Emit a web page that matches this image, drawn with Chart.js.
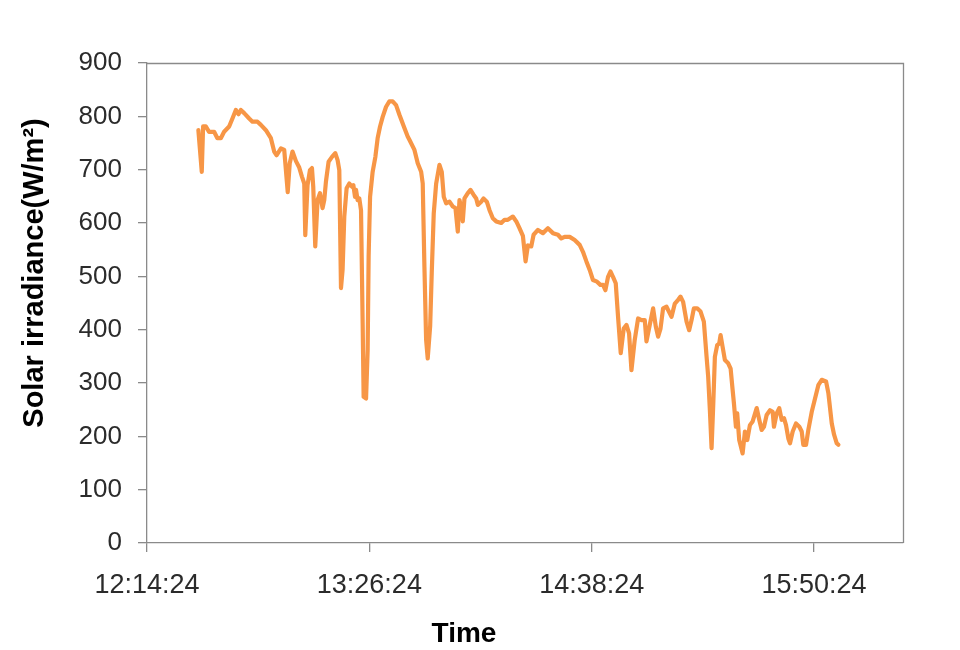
<!DOCTYPE html>
<html>
<head>
<meta charset="utf-8">
<script src="https://cdn.jsdelivr.net/npm/chart.js@4.4.1/dist/chart.umd.min.js"></script>
<style>
  html, body { margin: 0; padding: 0; background: #ffffff; }
  #wrap { width: 960px; height: 650px; position: relative; }
</style>
</head>
<body>
<div id="wrap"><canvas id="chart" width="960" height="650"></canvas></div>
<script>
// Logged samples: clock time and solar irradiance (W/m²)
const times = [
  '12:31:02','12:32:08','12:32:34','12:33:26','12:34:30','12:36:08','12:37:12','12:38:18','12:39:22','12:41:00',
  '12:42:04','12:43:10','12:44:01','12:44:47','12:45:52','12:47:29','12:48:33','12:50:10','12:51:16','12:52:54',
  '12:54:31','12:55:35','12:56:20','12:57:46','12:58:50','12:59:58','13:00:37','13:01:31','13:02:38','13:03:42',
  '13:04:34','13:05:19','13:05:39','13:06:23','13:07:10','13:07:49','13:08:14','13:08:53','13:09:38','13:10:25',
  '13:11:15','13:11:48','13:12:21','13:13:12','13:14:18','13:15:22','13:16:07','13:16:40','13:17:13','13:17:44',
  '13:18:17','13:19:02','13:19:55','13:20:47','13:21:13','13:21:46','13:22:05','13:22:36','13:23:09','13:23:42',
  '13:24:14','13:24:33','13:25:20','13:25:51','13:26:10','13:26:38','13:27:28','13:28:21','13:29:05','13:29:52',
  '13:30:43','13:31:49','13:32:53','13:33:57','13:35:03','13:36:08','13:37:45','13:38:49','13:39:22','13:41:00',
  '13:42:04','13:43:10','13:43:41','13:44:14','13:44:47','13:45:18','13:46:05','13:46:36','13:47:15','13:48:02',
  '13:49:06','13:49:51','13:50:30','13:51:16','13:52:21','13:53:25','13:54:17','13:55:02','13:55:35','13:56:20',
  '13:56:39','13:57:12','13:58:17','13:59:09','14:00:08','14:01:00','14:01:31','14:02:37','14:03:22','14:04:26',
  '14:05:19','14:06:23','14:07:29','14:09:07','14:10:11','14:11:15','14:12:52','14:13:59','14:15:03','14:16:07',
  '14:16:59','14:17:44','14:18:50','14:19:35','14:20:59','14:22:36','14:24:13','14:25:51','14:27:28','14:28:34',
  '14:29:38','14:31:16','14:32:53','14:34:30','14:35:34','14:36:41','14:37:45','14:38:49','14:40:07','14:41:13',
  '14:42:04','14:42:50','14:43:41','14:44:28','14:45:18','14:46:11','14:46:56','14:47:48','14:48:46','14:49:39',
  '14:50:30','14:51:16','14:52:20','14:53:25','14:54:31','14:55:35','14:56:08','14:57:12','14:58:17','14:59:09',
  '14:59:54','15:00:41','15:01:31','15:02:37','15:04:15','15:05:19','15:06:23','15:07:10','15:08:00','15:09:07',
  '15:09:57','15:10:44','15:11:29','15:12:33','15:13:39','15:14:43','15:15:36','15:16:07','15:16:40','15:17:13',
  '15:17:44','15:18:17','15:19:02','15:19:41','15:20:08','15:20:47','15:21:32','15:22:36','15:23:23','15:24:02',
  '15:24:27','15:25:06','15:25:31','15:26:10','15:27:16','15:28:01','15:28:46','15:29:38','15:30:31','15:31:49',
  '15:32:39','15:33:26','15:34:11','15:35:03','15:36:08','15:37:00','15:37:25','15:38:18','15:39:08','15:39:55',
  '15:40:40','15:41:19','15:42:04','15:42:37','15:43:29','15:44:33','15:45:38','15:46:24','15:46:55','15:47:48',
  '15:48:33','15:49:39','15:50:43','15:51:47','15:52:53','15:54:17','15:55:02','15:56:08','15:56:53','15:57:45',
  '15:58:17'
];

const irradiance = [
  774, 696, 781, 781, 771, 771, 759, 759, 771, 781,
  796, 812, 804, 812, 806, 796, 790, 790, 784, 774,
  759, 734, 727, 740, 737, 658, 712, 734, 716, 704,
  687, 674, 577, 671, 699, 703, 668, 556, 643, 656,
  628, 643, 678, 715, 724, 731, 718, 699, 478, 512,
  612, 665, 674, 668, 671, 649, 662, 643, 646, 624,
  412, 274, 271, 362, 537, 649, 696, 724, 759, 781,
  799, 818, 828, 828, 821, 803, 778, 762, 756, 737,
  712, 696, 674, 518, 381, 346, 406, 506, 618, 674,
  709, 696, 649, 637, 640, 631, 628, 584, 643, 624,
  603, 646, 656, 662, 653, 646, 634, 640, 646, 640,
  624, 609, 603, 600, 606, 606, 612, 603, 590, 576,
  528, 558, 556, 578, 587, 581, 590, 581, 578, 571,
  574, 574, 568, 559, 546, 528, 512, 493, 490, 484,
  484, 474, 499, 509, 499, 487, 424, 356, 402, 409,
  393, 324, 381, 421, 418, 418, 378, 409, 440, 406,
  387, 402, 440, 443, 424, 449, 456, 462, 452, 415,
  399, 418, 440, 440, 434, 415, 349, 312, 249, 178,
  256, 349, 371, 374, 390, 368, 343, 337, 327, 287,
  262, 218, 243, 193, 168, 209, 193, 221, 228, 253,
  231, 212, 218, 240, 249, 246, 218, 243, 253, 231,
  234, 221, 196, 187, 209, 224, 218, 209, 184, 184,
  212, 246, 271, 296, 306, 303, 281, 224, 203, 187,
  184
];

// Time axis: labelled ticks and the axis end
const xTickLabels = ['12:14:24', '13:26:24', '14:38:24', '15:50:24'];
const xAxisStart = '12:14:24';
const xAxisEnd = '16:19:12';

// Irradiance axis
const yMin = 0;
const yMax = 900;
const yStep = 100;

const xTitle = 'Time';
const yTitle = 'Solar irradiance(W/m\u00B2)';

function toSec(t) {
  const p = t.split(':').map(Number);
  return p[0] * 3600 + p[1] * 60 + p[2];
}

const FONT = '"Liberation Sans", Arial, Helvetica, sans-serif';
const AXIS_GREY = '#8a8a8a';

// Frame around the plot area and the two axis titles
const framePlugin = {
  id: 'frameAndTitles',
  beforeDatasetsDraw(chart) {
    const { ctx, chartArea: a } = chart;
    ctx.save();
    ctx.strokeStyle = AXIS_GREY;
    ctx.lineWidth = 1.3;
    ctx.beginPath();
    ctx.moveTo(a.left, a.top + 0.5);
    ctx.lineTo(a.right + 0.5, a.top + 0.5);
    ctx.lineTo(a.right + 0.5, a.bottom);
    ctx.stroke();
    ctx.restore();
  },
  afterDraw(chart) {
    const ctx = chart.ctx;
    ctx.save();
    ctx.fillStyle = '#000000';
    ctx.textAlign = 'center';
    ctx.textBaseline = 'middle';
    ctx.font = 'bold 28px ' + FONT;
    ctx.fillText(xTitle, 464, 634);
    ctx.translate(35, 273);
    ctx.rotate(-Math.PI / 2);
    ctx.font = 'bold 29px ' + FONT;
    ctx.fillText(yTitle, 0, 0);
    ctx.restore();
  }
};

new Chart(document.getElementById('chart'), {
  type: 'line',
  data: {
    datasets: [{
      data: times.map((t, i) => ({ x: toSec(t), y: irradiance[i] })),
      borderColor: '#F79646',
      borderWidth: 4.2,
      borderJoinStyle: 'round',
      borderCapStyle: 'round',
      pointRadius: 0,
      tension: 0,
      fill: false
    }]
  },
  options: {
    responsive: false,
    animation: false,
    devicePixelRatio: 1,
    layout: { padding: { left: 0, right: 57, top: 63, bottom: 0 } },
    plugins: {
      legend: { display: false },
      tooltip: { enabled: false },
      title: { display: false }
    },
    scales: {
      x: {
        type: 'linear',
        min: toSec(xAxisStart),
        max: toSec(xAxisEnd),
        afterBuildTicks(scale) {
          scale.ticks = xTickLabels.map(t => ({ value: toSec(t) }));
        },
        afterFit(scale) { scale.height = 107; },
        ticks: {
          autoSkip: false,
          maxRotation: 0,
          padding: 17,
          color: '#2b2b2b',
          font: { family: FONT, size: 27 },
          callback: (value, index) => xTickLabels[index]
        },
        grid: {
          drawOnChartArea: false,
          drawTicks: true,
          tickLength: 9,
          color: AXIS_GREY,
          lineWidth: 1.3
        },
        border: { display: true, color: AXIS_GREY, width: 1.3 }
      },
      y: {
        min: yMin,
        max: yMax,
        afterFit(scale) { scale.width = 147; },
        ticks: {
          stepSize: yStep,
          padding: 16,
          color: '#2b2b2b',
          font: { family: FONT, size: 26 }
        },
        grid: {
          drawOnChartArea: false,
          drawTicks: true,
          tickLength: 9,
          color: AXIS_GREY,
          lineWidth: 1.3
        },
        border: { display: true, color: AXIS_GREY, width: 1.3 }
      }
    }
  },
  plugins: [framePlugin]
});
</script>
</body>
</html>
